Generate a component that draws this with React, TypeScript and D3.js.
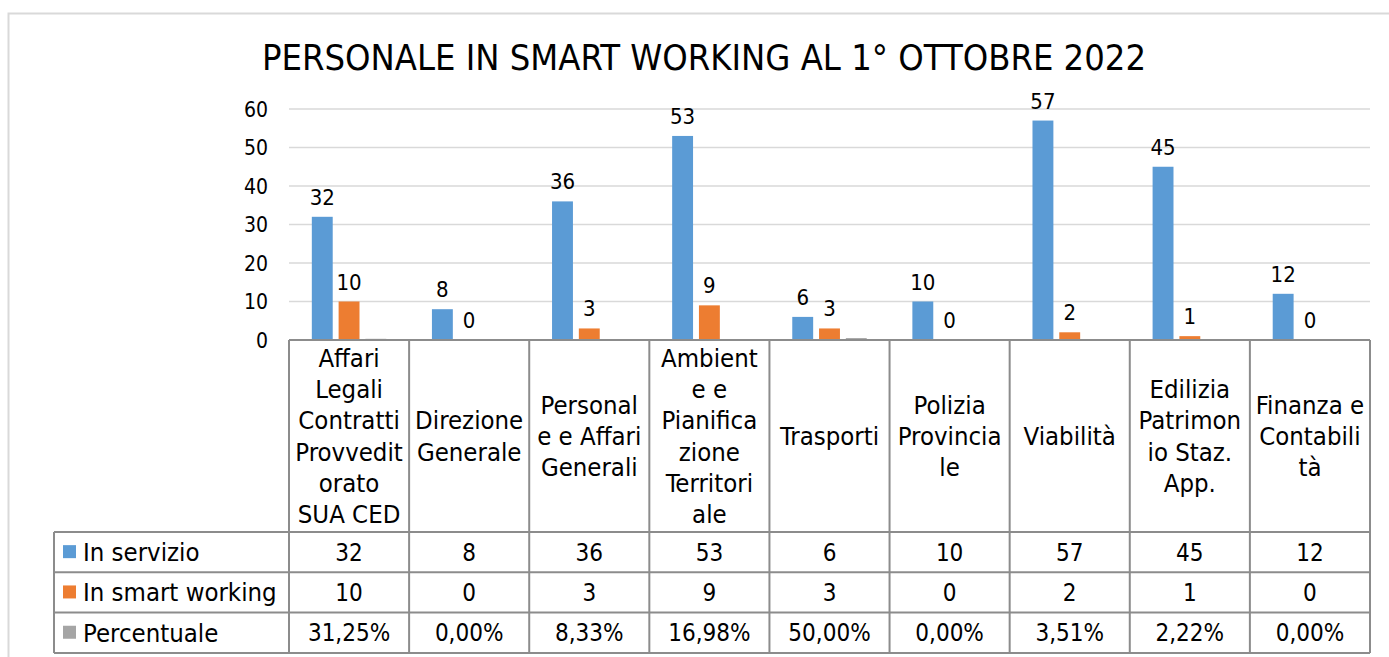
import React from "react";
import * as d3 from "d3";

const title = "PERSONALE IN SMART WORKING AL 1° OTTOBRE 2022";
const categories = [
  "Affari Legali Contratti Provveditorato SUA CED",
  "Direzione Generale",
  "Personale e Affari Generali",
  "Ambiente e Pianificazione Territoriale",
  "Trasporti",
  "Polizia Provinciale",
  "Viabilità",
  "Edilizia Patrimonio Staz. App.",
  "Finanza e Contabilità",
];
const categoryLines = [
  ["Affari", "Legali", "Contratti", "Provvedit", "orato", "SUA CED"],
  ["Direzione", "Generale"],
  ["Personal", "e e Affari", "Generali"],
  ["Ambient", "e e", "Pianifica", "zione", "Territori", "ale"],
  ["Trasporti"],
  ["Polizia", "Provincia", "le"],
  ["Viabilità"],
  ["Edilizia", "Patrimon", "io Staz.", "App."],
  ["Finanza e", "Contabili", "tà"],
];
const seriesNames = ["In servizio", "In smart working", "Percentuale"];
const seriesColors = ["#5b9bd5", "#ed7d31", "#a5a5a5"];
const inServizio = [32, 8, 36, 53, 6, 10, 57, 45, 12];
const inSmart = [10, 0, 3, 9, 3, 0, 2, 1, 0];
const percentuale = [0.3125, 0, 0.0833, 0.1698, 0.5, 0, 0.0351, 0.0222, 0];
const percentLabels = ["31,25%", "0,00%", "8,33%", "16,98%", "50,00%", "0,00%", "3,51%", "2,22%", "0,00%"];
const yTicks = [0, 10, 20, 30, 40, 50, 60];

const FONT = "'DejaVu Sans Condensed', 'DejaVu Sans', sans-serif";

export default function App() {
  const W = 1389, H = 657;
  const plotL = 289, plotR = 1370, yTop = 109, yBase = 340;
  const headerBottom = 532, rowH = 40.3, legendL = 54;
  const x = d3.scaleBand<string>().domain(categories).range([plotL, plotR]).padding(0);
  const bw = x.bandwidth();
  const xs = d3.scaleBand<string>().domain(seriesNames).range([bw * 0.19, bw * 0.81]).paddingInner(0.22);
  const y = d3.scaleLinear().domain([0, 60]).range([yBase, yTop]);
  const seriesData = [inServizio, inSmart, percentuale];
  const tableRows = [inServizio.map(String), inSmart.map(String), percentLabels];
  const tableBottom = headerBottom + rowH * 3;
  const gridColor = "#d9d9d9";
  const tableColor = "#8c8c8c";

  return (
    <svg width={W} height={H} style={{ position: "absolute", left: 0, top: 0, fontFamily: FONT }}>
      <rect x={0} y={0} width={W} height={H} fill="#fff" />
      <path d={`M8.5,${H} V13.5 H${W}`} fill="none" stroke={gridColor} strokeWidth={2} />
      <text x={704} y={70} textAnchor="middle" fontSize={36} fill="#000">{title}</text>
      {yTicks.map((t) => (
        <g key={t}>
          {t > 0 && <line x1={plotL} x2={plotR} y1={y(t)} y2={y(t)} stroke={gridColor} strokeWidth={1.5} />}
          <text x={268} y={y(t) + 7.5} textAnchor="end" fontSize={21} fill="#000">{t}</text>
        </g>
      ))}
      {categories.map((c, i) => (
        <g key={c}>
          {seriesData.map((arr, s) => {
            const v = arr[i];
            const bx = (x(c) as number) + (xs(seriesNames[s]) as number);
            return (
              <g key={s}>
                <rect x={bx} y={y(v)} width={xs.bandwidth()} height={yBase - y(v)} fill={seriesColors[s]} />
                {s < 2 && (
                  <text x={bx + xs.bandwidth() / 2} y={y(v) - 12} textAnchor="middle" fontSize={22} fill="#000">{v}</text>
                )}
              </g>
            );
          })}
        </g>
      ))}
      {/* table */}
      <g stroke={tableColor} strokeWidth={2} fill="none">
        <line x1={plotL} x2={plotR} y1={yBase} y2={yBase} />
        {[0, 1, 2, 3].map((r) => (
          <line key={r} x1={legendL} x2={plotR} y1={headerBottom + r * rowH} y2={headerBottom + r * rowH} />
        ))}
        <line x1={legendL} x2={legendL} y1={headerBottom} y2={tableBottom} />
        {categories.map((c) => (
          <line key={c} x1={x(c)} x2={x(c)} y1={yBase} y2={tableBottom} />
        ))}
        <line x1={plotR} x2={plotR} y1={yBase} y2={tableBottom} />
      </g>
      {categories.map((c, i) => {
        const lines = categoryLines[i];
        const lh = 31.2;
        const cy = (yBase + headerBottom) / 2;
        const start = cy - ((lines.length - 1) * lh) / 2;
        return (
          <text key={c} textAnchor="middle" fontSize={25.5} fill="#000">
            {lines.map((l, k) => (
              <tspan key={k} x={(x(c) as number) + bw / 2} y={start + k * lh + 9}>{l}</tspan>
            ))}
          </text>
        );
      })}
      {seriesNames.map((s, r) => {
        const cy = headerBottom + r * rowH + rowH / 2;
        return (
          <g key={s}>
            <rect x={63} y={cy - 7} width={13} height={13} fill={seriesColors[r]} />
            <text x={83} y={cy + 9} fontSize={25.5} fill="#000">{s}</text>
            {categories.map((c, i) => (
              <text key={c} x={(x(c) as number) + bw / 2} y={cy + 8.5} textAnchor="middle" fontSize={24} fill="#000">
                {tableRows[r][i]}
              </text>
            ))}
          </g>
        );
      })}
    </svg>
  );
}
